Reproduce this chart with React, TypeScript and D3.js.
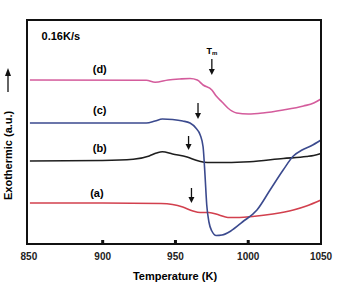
import React, { useEffect, useRef } from 'react';
import * as d3 from 'd3';

// temperature (K) vs exothermic signal (a.u.)
const tempA = [850, 900, 940, 948, 955, 962, 967, 973, 980, 986, 994, 1003, 1017, 1031, 1040, 1050];
const valA = [41, 41, 40.5, 39.5, 37, 33, 31.5, 31.5, 29, 26.5, 26.5, 27.5, 30, 34, 38, 44];

const tempB = [850, 900, 921, 932, 937, 941, 948, 958, 966, 972, 985, 1001, 1024, 1040, 1045, 1050];
const valB = [83, 83.5, 84.7, 88, 91, 92.3, 90, 87, 83, 81.5, 81.5, 82.3, 85.5, 87.5, 88.5, 90.5];

const tempC = [850, 930, 936, 941, 948, 955, 960, 964, 967, 969, 970.3, 971.5, 973, 975, 978, 982, 988, 996, 1006, 1015, 1024, 1031, 1037, 1043, 1050];
const valC = [121, 121, 123, 125, 124.5, 123, 121, 116, 109, 97, 69, 39, 22, 13, 8.5, 9, 13, 22, 34, 54, 74, 88, 94, 98, 104];

const tempD = [850, 930, 936, 945, 953, 960, 965, 969, 975, 978, 982, 986, 992, 1000, 1010, 1024, 1038, 1045, 1050];
const valD = [164, 163.7, 161.7, 164, 165, 165.5, 164, 159, 154, 148, 142, 136, 131, 130, 131, 134, 138, 141, 145];

const curveNames = ['(a)', '(b)', '(c)', '(d)'];
const curveColors = ['#d2404e', '#1e1e1e', '#3b4a8e', '#d45c9c'];
const labelTemps = [896, 898, 898, 898];
const labelVals = [51, 96, 134, 175];

// onset arrows: temperature, top and bottom (a.u.)
const arrowTemps = [961, 959, 965.5, 975];
const arrowTops = [56, 108, 141, 185];
const arrowBottoms = [41, 94, 125, 169];

const xTicks = [850, 900, 950, 1000, 1050];
const innerTicks = [900, 950, 1000];

const width = 337;
const height = 282;

const App: React.FC = () => {
  const svgRef = useRef<SVGSVGElement>(null);

  useEffect(() => {
    if (!svgRef.current) return;
    const svg = d3.select(svgRef.current);
    svg.selectAll('*').remove();

    const left = 27, right = 321, top = 20, bottom = 244;
    const font = 'Liberation Sans, Arial, sans-serif';

    const x = d3.scaleLinear().domain([848, 1050]).range([left, right]);
    const y = d3.scaleLinear().domain([0, 224]).range([bottom, top]);

    const series = [
      { t: tempA, v: valA },
      { t: tempB, v: valB },
      { t: tempC, v: valC },
      { t: tempD, v: valD },
    ];

    const line = d3
      .line<[number, number]>()
      .x(d => x(d[0]))
      .y(d => y(d[1]))
      .curve(d3.curveMonotoneX);

    series.forEach((s, i) => {
      const pts = s.t.map((t, j) => [t, s.v[j]] as [number, number]);
      svg
        .append('path')
        .attr('d', line(pts) || '')
        .attr('fill', 'none')
        .attr('stroke', curveColors[i])
        .attr('stroke-width', 1.6);

      svg
        .append('text')
        .attr('x', x(labelTemps[i]))
        .attr('y', y(labelVals[i]))
        .attr('text-anchor', 'middle')
        .attr('dominant-baseline', 'central')
        .style('font-family', font)
        .style('font-weight', 'bold')
        .style('font-size', '11px')
        .text(curveNames[i]);
    });

    // arrows
    arrowTemps.forEach((t, i) => {
      const ax = x(t);
      const y0 = y(arrowTops[i]);
      const y1 = y(arrowBottoms[i]);
      svg
        .append('line')
        .attr('x1', ax)
        .attr('x2', ax)
        .attr('y1', y0)
        .attr('y2', y1 - 4)
        .attr('stroke', '#111')
        .attr('stroke-width', 1.3);
      svg
        .append('path')
        .attr('d', `M${ax - 3},${y1 - 6} L${ax + 3},${y1 - 6} L${ax},${y1} Z`)
        .attr('fill', '#111');
    });

    svg
      .append('text')
      .attr('x', x(975))
      .attr('y', y(190))
      .attr('text-anchor', 'middle')
      .style('font-family', font)
      .style('font-weight', 'bold')
      .style('font-size', '9px')
      .text('T')
      .append('tspan')
      .attr('font-size', '6px')
      .attr('dy', 1)
      .text('m');

    svg
      .append('text')
      .attr('x', x(858))
      .attr('y', y(208))
      .attr('dominant-baseline', 'central')
      .style('font-family', font)
      .style('font-weight', 'bold')
      .style('font-size', '11px')
      .text('0.16K/s');

    // frame
    svg
      .append('rect')
      .attr('x', left)
      .attr('y', top)
      .attr('width', right - left)
      .attr('height', bottom - top)
      .attr('fill', 'none')
      .attr('stroke', '#111')
      .attr('stroke-width', 2);

    innerTicks.forEach(t => {
      svg
        .append('rect')
        .attr('x', x(t) - 1.5)
        .attr('y', bottom - 4)
        .attr('width', 3)
        .attr('height', 4)
        .attr('fill', '#111');
    });

    xTicks.forEach(t => {
      svg
        .append('text')
        .attr('x', x(t) - (t === 850 ? 1 : 0))
        .attr('y', 256)
        .attr('text-anchor', 'middle')
        .attr('dominant-baseline', 'central')
        .style('font-family', font)
        .style('font-weight', 'bold')
        .style('font-size', '10px')
        .style('fill', '#222')
        .text(t);
    });

    svg
      .append('text')
      .attr('x', 175)
      .attr('y', 276)
      .attr('text-anchor', 'middle')
      .attr('dominant-baseline', 'central')
      .style('font-family', font)
      .style('font-weight', 'bold')
      .style('font-size', '11px')
      .text('Temperature (K)');

    // y label with arrow
    svg
      .append('text')
      .attr('transform', 'translate(8,200) rotate(-90)')
      .attr('dominant-baseline', 'central')
      .style('font-family', font)
      .style('font-weight', 'bold')
      .style('font-size', '11px')
      .text('Exothermic (a.u.)');
    svg
      .append('line')
      .attr('x1', 8)
      .attr('x2', 8)
      .attr('y1', 92)
      .attr('y2', 74)
      .attr('stroke', '#111')
      .attr('stroke-width', 1.3);
    svg
      .append('path')
      .attr('d', 'M5,76 L11,76 L8,68 Z')
      .attr('fill', '#111');
  }, []);

  return <svg ref={svgRef} width={width} height={height} style={{ position: 'absolute', left: 0, top: 0, background: '#fff' }} />;
};

export default App;
